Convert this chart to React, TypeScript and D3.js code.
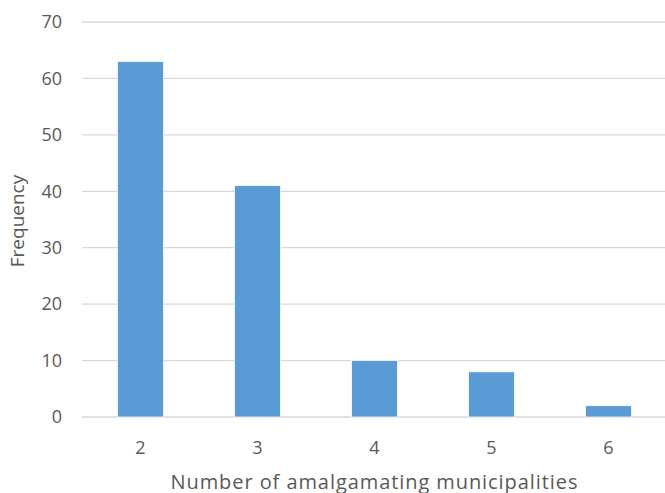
import React, { useRef, useEffect } from 'react';
import * as d3 from 'd3';

const categories = ['2', '3', '4', '5', '6'];
const frequencies = [63, 41, 10, 8, 2];
const yTicks = [0, 10, 20, 30, 40, 50, 60, 70];

const width = 665;
const height = 493;

const App: React.FC = () => {
  const ref = useRef<SVGSVGElement | null>(null);

  useEffect(() => {
    const svg = d3.select(ref.current);
    svg.selectAll('*').remove();

    const margin = { top: 22, right: -2, bottom: 76, left: 82 };
    const font = '"Open Sans", sans-serif';

    const x = d3.scaleBand<string>()
      .domain(categories)
      .range([margin.left, width - margin.right])
      .paddingInner(0.607)
      .paddingOuter(0.3035);

    const y = d3.scaleLinear()
      .domain([0, 70])
      .range([height - margin.bottom, margin.top]);

    // gridlines
    svg.append('g')
      .selectAll('line')
      .data(yTicks)
      .join('line')
      .attr('x1', margin.left)
      .attr('x2', width)
      .attr('y1', (d) => y(d))
      .attr('y2', (d) => y(d))
      .attr('stroke', '#d9d9d9')
      .attr('stroke-width', 1.3);

    // y tick labels
    svg.append('g')
      .selectAll('text')
      .data(yTicks)
      .join('text')
      .attr('x', 62)
      .attr('y', (d) => y(d))
      .attr('dy', '0.35em')
      .attr('text-anchor', 'end')
      .style('font-family', font)
      .style('font-size', '18px')
      .style('fill', '#595959')
      .text((d) => d);

    // bars
    svg.append('g')
      .selectAll('rect')
      .data(frequencies)
      .join('rect')
      .attr('x', (_, i) => x(categories[i])!)
      .attr('y', (d) => y(d))
      .attr('width', x.bandwidth())
      .attr('height', (d) => y(0) - y(d))
      .attr('fill', '#5b9bd5')
      .attr('stroke', '#ffffff')
      .attr('stroke-width', 0.75);

    // x tick labels
    svg.append('g')
      .selectAll('text')
      .data(categories)
      .join('text')
      .attr('x', (d) => x(d)! + x.bandwidth() / 2)
      .attr('y', 454)
      .attr('text-anchor', 'middle')
      .style('font-family', font)
      .style('font-size', '18px')
      .style('fill', '#595959')
      .text((d) => d);

    // axis titles
    svg.append('text')
      .attr('x', 374)
      .attr('y', 489)
      .attr('text-anchor', 'middle')
      .attr('textLength', 407)
      .style('font-family', font)
      .style('font-size', '20px')
      .style('fill', '#595959')
      .text('Number  of amalgamating municipalities');

    svg.append('text')
      .attr('transform', `translate(24, 221) rotate(-90)`)
      .attr('text-anchor', 'middle')
      .style('font-family', font)
      .style('font-size', '19px')
      .style('fill', '#595959')
      .text('Frequency');
  }, []);

  return (
    <svg
      ref={ref}
      width={width}
      height={height}
      style={{ position: 'absolute', left: 0, top: 0, display: 'block', background: '#fff' }}
    />
  );
};

export default App;
